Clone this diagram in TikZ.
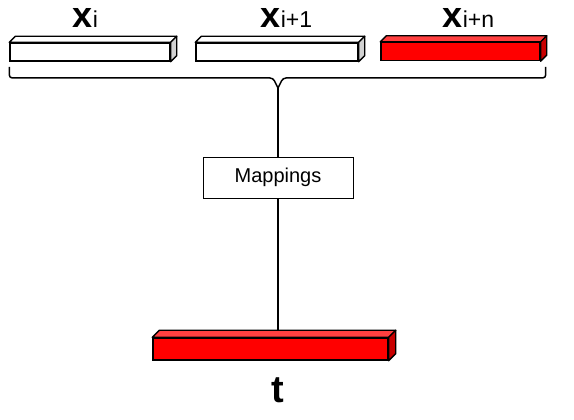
\documentclass[tikz,border=0pt]{standalone}
\usepackage{fontspec}
\setmainfont{Liberation Sans}
\usetikzlibrary{calc, positioning}
\definecolor{barred}{RGB}{255,0,0}
\definecolor{bartop}{RGB}{255,64,64}
\definecolor{barside}{RGB}{200,0,0}
\definecolor{greyside}{RGB}{210,210,210}
\tikzset{%
	bar/.style={
		rectangle,
		draw,
		line width=1.4pt,
		inner sep=0pt
	},
	varlabel/.style={
		anchor=base west,
		inner sep=0pt,
		font=\fontsize{36}{36}\selectfont\bfseries
	},
}
\newcommand{\vecsub}[1]{x{\fontsize{23}{23}\selectfont\mdseries #1}}

\begin{document}
\begin{tikzpicture}[
			x=1pt, y=1pt,
			every path/.style={line width=1.5pt},
			mapbox/.style={draw, line width=0.8pt, minimum width=150pt, minimum height=41pt, font=\fontsize{20}{20}\selectfont}
			]
			\useasboundingbox (0,0) rectangle (574,420);
			
			% input vectors and target
			\node[bar, fill=white, minimum width=160pt, minimum height=18pt] (xa) at (90,368) {};
			\node[bar, fill=white, minimum width=162pt, minimum height=18pt] (xb) at (277,368) {};
			\node[bar, fill=barred, minimum width=159pt, minimum height=18pt] (xn) at (460.5,368.5) {};
			\node[bar, fill=barred, minimum width=235pt, minimum height=22pt] (tbar) at (270.5,71) {};
			
			\node[varlabel] (lxa) at (72,392) {\vecsub{i}};
			\node[varlabel] (lxb) at (260,392) {\vecsub{i+1}};
			\node[varlabel] (lxn) at (442,392) {\vecsub{i+n}};
			\node[anchor=base, inner sep=0pt, font=\fontsize{38}{38}\selectfont\bfseries] (lt) at (278,17) {t};
			
			\node[mapbox] (map) at (278,242.5) {Mappings};
			
			% brace
			\coordinate (tip) at (278,332);
			\draw[rounded corners=3pt] (xa.south west |- 0,353) -- (xa.south west |- 0,342) -- (273,342) -- (tip);
			\draw[rounded corners=3pt] (xn.south east |- 0,353) ++(5,0) -- ++(0,-11) -- (283,342) -- (tip);
			
			% connectors
			\draw (tip) -- (map);
			\draw (map) -- (map.south |- tbar.north);
			
			% faces of the bars
			\foreach \b/\d/\t/\s in {xa/6/white/greyside, xb/6/white/greyside, xn/6/bartop/barside, tbar/7/bartop/barside} {
				\filldraw[fill=\t, line width=1.4pt, line join=round] (\b.north west) -- ++(\d,\d) -- ($(\b.north east)+(\d,\d)$) -- (\b.north east) -- cycle;
				\filldraw[fill=\s, line width=1.4pt, line join=round] (\b.north east) -- ++(\d,\d) -- ($(\b.south east)+(\d,\d)$) -- (\b.south east) -- cycle;
			}
			
		\end{tikzpicture}
\end{document}
